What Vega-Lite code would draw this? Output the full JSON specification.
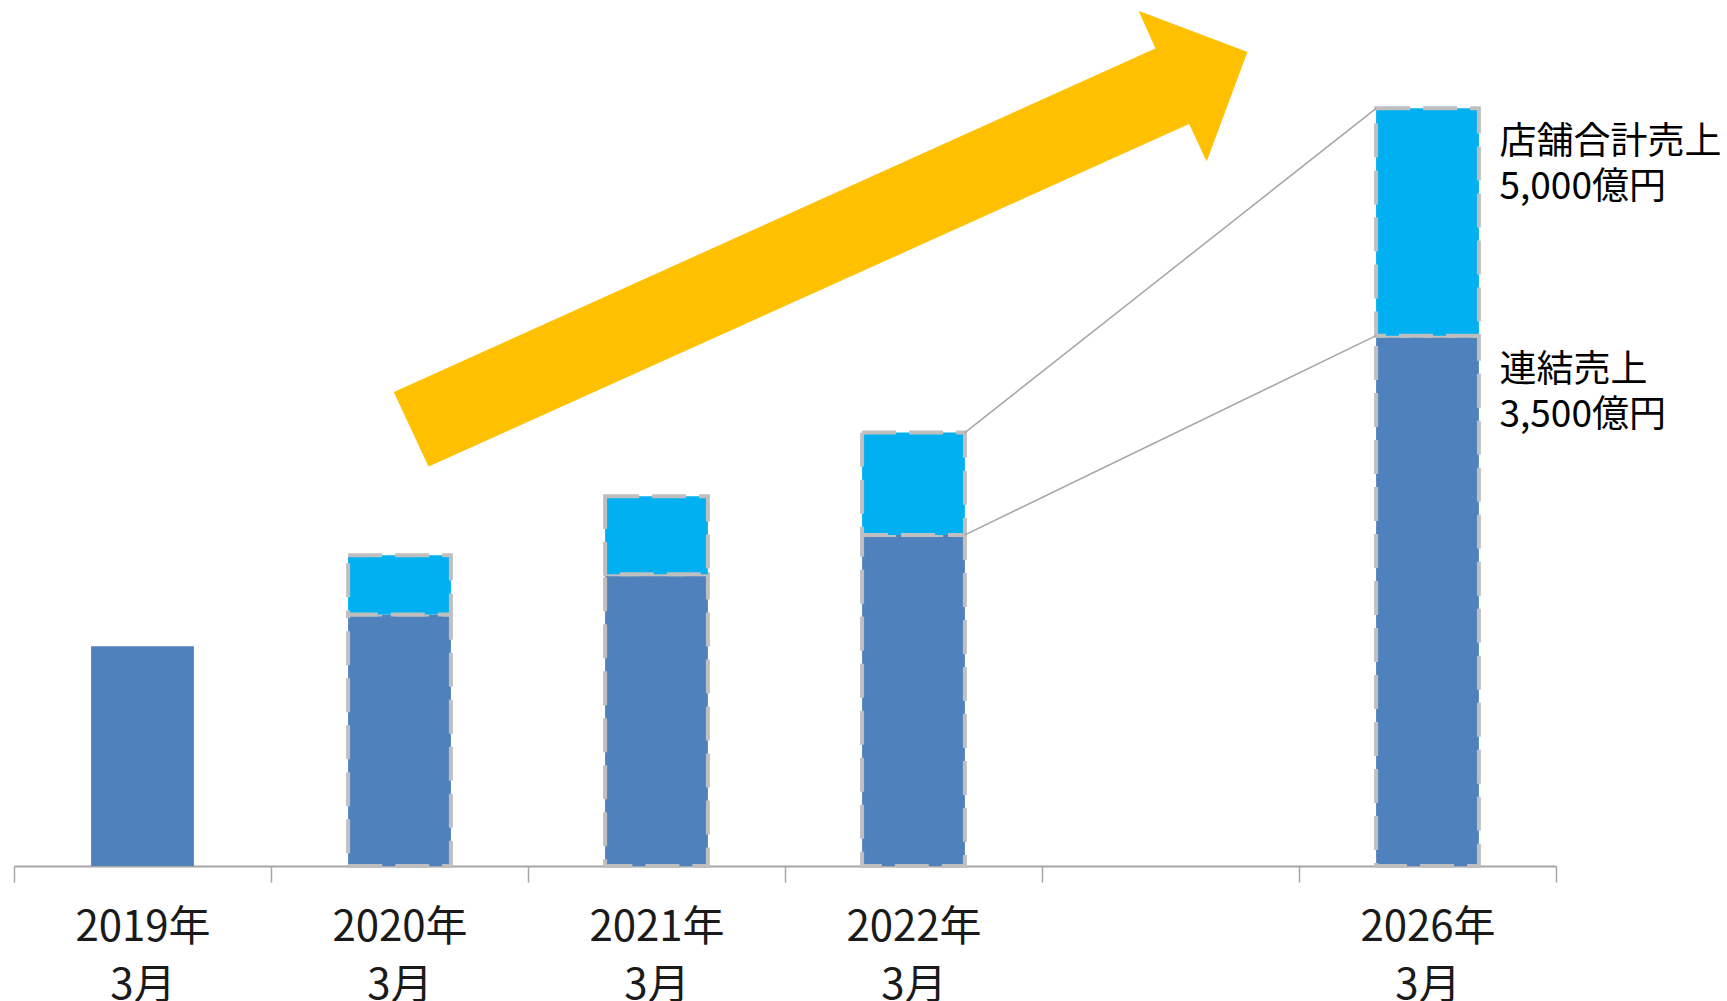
{
  "$schema": "https://vega.github.io/schema/vega-lite/v6.json",
  "width": 1542,
  "height": 866,
  "autosize": {"type": "none"},
  "padding": {"left": 14, "top": 0, "right": 171, "bottom": 135},
  "background": "white",
  "config": {"view": {"stroke": null}, "font": "Noto Sans CJK JP"},
  "datasets": {
    "sales": [
      {"year": "2019", "series": "連結売上", "k": 1, "value": 1450},
      {"year": "2020", "series": "連結売上", "k": 1, "value": 1660},
      {"year": "2020", "series": "店舗売上", "k": 2, "value": 390},
      {"year": "2021", "series": "連結売上", "k": 1, "value": 1925},
      {"year": "2021", "series": "店舗売上", "k": 2, "value": 515},
      {"year": "2022", "series": "連結売上", "k": 1, "value": 2185},
      {"year": "2022", "series": "店舗売上", "k": 2, "value": 675},
      {"year": "2026", "series": "連結売上", "k": 1, "value": 3500},
      {"year": "2026", "series": "店舗売上", "k": 2, "value": 1500}
    ],
    "notes": [
      {"year": "2026", "value": 5000, "label": "店舗合計売上\n5,000億円"},
      {"year": "2026", "value": 3500, "label": "連結売上\n3,500億円"}
    ],
    "callouts": [
      {"x0": 3.7, "v0": 2860, "x1": 5.3, "v1": 5000},
      {"x0": 3.7, "v0": 2185, "x1": 5.3, "v1": 3500}
    ],
    "arrow": [
      {"i": 1, "ax": 1.4802, "av": 3126},
      {"i": 2, "ax": 4.4436, "av": 5394},
      {"i": 3, "ax": 4.3794, "av": 5638},
      {"i": 4, "ax": 4.7969, "av": 5370},
      {"i": 5, "ax": 4.6405, "av": 4657},
      {"i": 6, "ax": 4.5735, "av": 4901},
      {"i": 7, "ax": 1.6140, "av": 2640}
    ]
  },
  "layer": [
    {
      "data": {"name": "sales"},
      "mark": {"type": "bar", "width": {"band": 0.4}, "strokeWidth": 4, "strokeDash": [34, 13]},
      "encoding": {
        "x": {
          "field": "year",
          "type": "nominal",
          "scale": {"domain": ["2019", "2020", "2021", "2022", "gap", "2026"], "paddingInner": 0, "paddingOuter": 0},
          "axis": {
            "title": null,
            "grid": false,
            "tickBand": "extent",
            "domainColor": "#A6A6A6",
            "domainWidth": 2,
            "tickColor": "#A6A6A6",
            "tickWidth": 1.5,
            "tickSize": 16,
            "labelFont": "Noto Sans CJK JP",
            "labelFontSize": 42,
            "labelColor": "#1A1A1A",
            "labelPadding": 25,
            "labelLineHeight": 58,
            "labelAngle": 0,
            "labelOverlap": false,
            "labelBound": false,
            "labelFlush": false,
            "labelExpr": "indexof(['2019', '2020', '2021', '2022', '2026'], datum.value) < 0 ? '' : [datum.value + '年', '3月']"
          }
        },
        "y": {
          "field": "value",
          "type": "quantitative",
          "stack": "zero",
          "scale": {"domain": [0, 5715], "nice": false, "zero": true},
          "axis": null
        },
        "color": {
          "field": "series",
          "type": "nominal",
          "scale": {"domain": ["連結売上", "店舗売上"], "range": ["#4F81BD", "#00B0F0"]},
          "legend": null
        },
        "order": {"field": "k", "type": "quantitative"},
        "stroke": {"condition": {"test": "datum.year !== '2019'", "value": "#BFBFBF"}, "value": "transparent"}
      }
    },
    {
      "data": {"name": "notes"},
      "mark": {"type": "text", "align": "left", "baseline": "alphabetic", "dx": 72, "dy": 46, "fontSize": 37, "lineHeight": 45, "lineBreak": "\n", "font": "Noto Sans CJK JP", "color": "#000000"},
      "encoding": {
        "x": {"field": "year", "type": "nominal", "scale": {"domain": ["2019", "2020", "2021", "2022", "gap", "2026"], "paddingInner": 0, "paddingOuter": 0}, "axis": null},
        "y": {"field": "value", "type": "quantitative", "scale": {"domain": [0, 5715], "nice": false, "zero": true}, "axis": null},
        "text": {"field": "label", "type": "nominal"}
      }
    },
    {
      "data": {"name": "callouts"},
      "mark": {"type": "rule", "color": "#A6A6A6", "strokeWidth": 1.5},
      "encoding": {
        "x": {"field": "x0", "type": "quantitative", "scale": {"domain": [0, 6], "nice": false, "zero": false}, "axis": null},
        "x2": {"field": "x1"},
        "y": {"field": "v0", "type": "quantitative", "scale": {"domain": [0, 5715], "nice": false, "zero": true}, "axis": null},
        "y2": {"field": "v1"}
      }
    },
    {
      "data": {"name": "arrow"},
      "mark": {"type": "line", "interpolate": "linear-closed", "fill": "#FFC000", "stroke": "#FFC000", "strokeWidth": 1},
      "encoding": {
        "x": {"field": "ax", "type": "quantitative", "scale": {"domain": [0, 6], "nice": false, "zero": false}, "axis": null},
        "y": {"field": "av", "type": "quantitative", "scale": {"domain": [0, 5715], "nice": false, "zero": true}, "axis": null},
        "order": {"field": "i", "type": "quantitative"}
      }
    }
  ],
  "resolve": {"scale": {"x": "independent"}}
}
